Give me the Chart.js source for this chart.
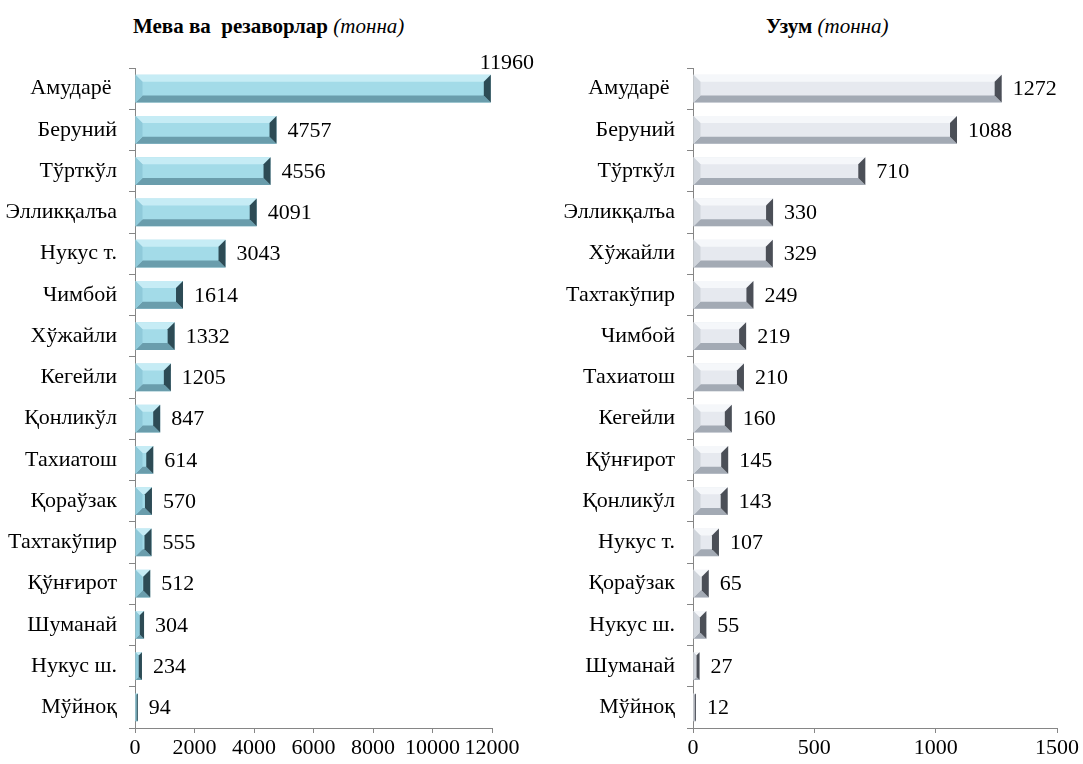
<!DOCTYPE html>
<html>
<head>
<meta charset="utf-8">
<script src="https://cdn.jsdelivr.net/npm/chart.js@4.4.1/dist/chart.umd.min.js"></script>
<style>
    body { margin: 0; background: #fff; width: 1083px; height: 764px; overflow: hidden; position: relative; }
    .panel { position: absolute; top: 0; height: 764px; }
    .titulo { position: absolute; top: 14px; font: bold 21px/24px 'Liberation Serif', serif; color: #000; white-space: nowrap; }
    .titulo i { font-weight: normal; }
</style>
</head>
<body>

<div class="titulo" style="left:133px">Мева ва&nbsp; резаворлар <i>(тонна)</i></div>
<div class="titulo" style="left:766px">Узум <i>(тонна)</i></div>

<div class="panel" style="left:0; width:540px"><canvas id="grafico-meva"></canvas></div>
<div class="panel" style="left:540px; width:543px"><canvas id="grafico-uzum"></canvas></div>

<script>
// Categories and values of the left chart (fruits and berries, tonnes)
const tumanlarMeva = ['Амударё ', 'Беруний', 'Тўрткўл', 'Элликқалъа', 'Нукус т.', 'Чимбой', 'Хўжайли', 'Кегейли',
                      'Қонликўл', 'Тахиатош', 'Қораўзак', 'Тахтакўпир', 'Қўнғирот', 'Шуманай', 'Нукус ш.', 'Мўйноқ'];
const qiymatMeva   = [11960, 4757, 4556, 4091, 3043, 1614, 1332, 1205, 847, 614, 570, 555, 512, 304, 234, 94];

// Categories and values of the right chart (grapes, tonnes)
const tumanlarUzum = ['Амударё ', 'Беруний', 'Тўрткўл', 'Элликқалъа', 'Хўжайли', 'Тахтакўпир', 'Чимбой', 'Тахиатош',
                      'Кегейли', 'Қўнғирот', 'Қонликўл', 'Нукус т.', 'Қораўзак', 'Нукус ш.', 'Шуманай', 'Мўйноқ'];
const qiymatUzum   = [1272, 1088, 710, 330, 329, 249, 219, 210, 160, 145, 143, 107, 65, 55, 27, 12];

// Axis range of each chart
const eksenMeva = { max: 12000, step: 2000 };
const eksenUzum = { max: 1500, step: 500 };

const FONT = { family: 'Liberation Serif', size: 22 };

// Colour sets for the bevelled bars
const paletas = {
    cian: { centro: '#a3dbe8', arriba: '#c6ecf5', abajo: '#6a9dac', izq: '#8fcada', der: '#2d4b55' },
    plata: { centro: '#e6e9ef', arriba: '#f5f7fa', abajo: '#a3aab4', izq: '#d0d5dc', der: '#4b4f57' }
};

// Draws each bar again with a bevel, using the element geometry from Chart.js
const biselPlugin = {
    id: 'bisel',
    afterDatasetsDraw(chart, args, opts) {
        const ctx = chart.ctx;
        const p = opts.paleta;
        chart.getDatasetMeta(0).data.forEach(el => {
            const x0 = Math.min(el.base, el.x), x1 = Math.max(el.base, el.x);
            const top = el.y - el.height / 2, bot = el.y + el.height / 2;
            const w = x1 - x0, h = bot - top;
            const b = Math.min(7, w / 2, h / 2);
            const poly = (pts, color) => {
                ctx.beginPath();
                ctx.moveTo(pts[0][0], pts[0][1]);
                pts.slice(1).forEach(q => ctx.lineTo(q[0], q[1]));
                ctx.closePath();
                ctx.fillStyle = color;
                ctx.fill();
            };
            ctx.save();
            poly([[x0, top], [x1, top], [x1, bot], [x0, bot]], p.centro);
            poly([[x0, top], [x1, top], [x1 - b, top + b], [x0 + b, top + b]], p.arriba);
            poly([[x0, bot], [x1, bot], [x1 - b, bot - b], [x0 + b, bot - b]], p.abajo);
            poly([[x0, top], [x0 + b, top + b], [x0 + b, bot - b], [x0, bot]], p.izq);
            poly([[x1, top], [x1 - b, top + b], [x1 - b, bot - b], [x1, bot]], p.der);
            ctx.restore();
        });
    }
};

// Writes the value next to the end of every bar
const etiquetasPlugin = {
    id: 'etiquetas',
    afterDatasetsDraw(chart) {
        const ctx = chart.ctx;
        const datos = chart.data.datasets[0].data;
        ctx.save();
        ctx.font = `${FONT.size}px "${FONT.family}"`;
        ctx.fillStyle = '#000';
        chart.getDatasetMeta(0).data.forEach((el, i) => {
            const txt = String(datos[i]);
            const ancho = ctx.measureText(txt).width;
            if (el.x + 11 + ancho > chart.width) {
                // No room on the right: put it above the bar end
                ctx.textAlign = 'right';
                ctx.textBaseline = 'alphabetic';
                ctx.fillText(txt, chart.width - 6, el.y - el.height / 2 - 6);
            } else {
                ctx.textAlign = 'left';
                ctx.textBaseline = 'middle';
                ctx.fillText(txt, el.x + 11, el.y + 1);
            }
        });
        ctx.restore();
    }
};

// Builds one horizontal bar chart
function construirGrafico(id, etiquetas, valores, eje, paleta, anchoEjeY, padDer) {
    return new Chart(document.getElementById(id), {
        type: 'bar',
        data: {
            labels: etiquetas,
            datasets: [{
                data: valores,
                backgroundColor: 'rgba(0,0,0,0)',
                barPercentage: 0.67,
                categoryPercentage: 1
            }]
        },
        options: {
            indexAxis: 'y',
            responsive: true,
            maintainAspectRatio: false,
            animation: false,
            layout: { padding: { top: 68, right: padDer, bottom: 0, left: 0 } },
            plugins: {
                legend: { display: false },
                tooltip: { enabled: false },
                bisel: { paleta: paletas[paleta] }
            },
            scales: {
                x: {
                    min: 0,
                    max: eje.max,
                    ticks: { stepSize: eje.step, color: '#000', font: FONT, padding: 2, maxRotation: 0, callback: v => String(v) },
                    grid: { drawOnChartArea: false, tickLength: 5, color: '#868686' },
                    border: { color: '#868686' },
                    afterFit: s => { s.height = 36; }
                },
                y: {
                    ticks: { color: '#000', font: FONT, padding: 12 },
                    grid: { drawOnChartArea: false, tickLength: 6, color: '#868686', offset: true },
                    border: { color: '#868686' },
                    afterFit: s => { s.width = anchoEjeY; }
                }
            }
        },
        plugins: [biselPlugin, etiquetasPlugin]
    });
}

// Wait for the serif font so the canvas text does not fall back to sans
document.fonts.load('22px "Liberation Serif"').then(() => {
    construirGrafico('grafico-meva', tumanlarMeva, qiymatMeva, eksenMeva, 'cian', 135, 48);
    construirGrafico('grafico-uzum', tumanlarUzum, qiymatUzum, eksenUzum, 'plata', 153, 26);
});
</script>
</body>
</html>
